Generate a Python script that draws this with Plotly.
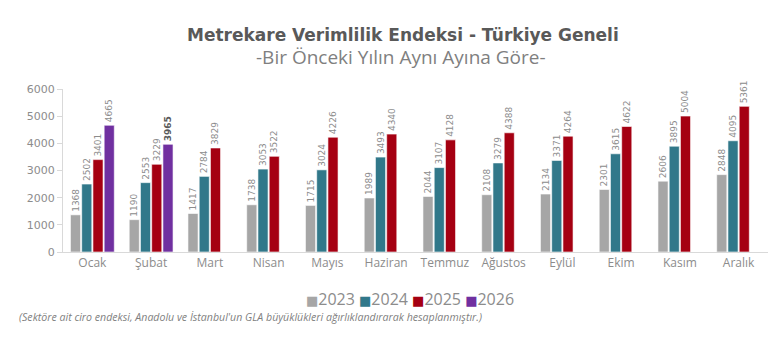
import plotly.graph_objects as go

months = ["Ocak", "Şubat", "Mart", "Nisan", "Mayıs", "Haziran", "Temmuz",
          "Ağustos", "Eylül", "Ekim", "Kasım", "Aralık"]
years = ["2023", "2024", "2025", "2026"]
v2023 = [1368, 1190, 1417, 1738, 1715, 1989, 2044, 2108, 2134, 2301, 2606, 2848]
v2024 = [2502, 2553, 2784, 3053, 3024, 3493, 3107, 3279, 3371, 3615, 3895, 4095]
v2025 = [3401, 3229, 3829, 3522, 4226, 4340, 4128, 4388, 4264, 4622, 5004, 5361]
v2026 = [4665, 3965, None, None, None, None, None, None, None, None, None, None]
series = [v2023, v2024, v2025, v2026]
colors = ["#a6a6a6", "#31788a", "#a50012", "#7030a0"]
highlight = {"2026": 1}  # index of the bold (latest) value

fig = go.Figure()
for name, vals, col in zip(years, series, colors):
    texts = []
    for i, v in enumerate(vals):
        if v is None:
            texts.append("")
        elif highlight.get(name) == i:
            texts.append(f"<b><span style='color:#595959'>{v}</span></b>")
        else:
            texts.append(str(v))
    fig.add_trace(go.Bar(
        x=months, y=vals, name=name,
        marker=dict(color=col, line=dict(color="#ffffff", width=0.6)),
        text=texts, texttemplate="%{text}", textposition="outside", textangle=-90,
        textfont=dict(family="DejaVu Sans", size=9, color="#8c8c8c"),
        constraintext="none", cliponaxis=False, showlegend=False,
        hoverinfo="x+y+name",
    ))

legend_html = " ".join(
    f"<span style='color:{c};font-family:DejaVu Sans;font-size:13px'>■</span>{y}"
    for y, c in zip(years, colors)
)

fig.update_layout(
    width=768, height=340,
    margin=dict(l=63, r=0, t=89, b=88),
    paper_bgcolor="white", plot_bgcolor="white",
    barmode="group", bargap=0.235, bargroupgap=0.1,
    font=dict(family="Open Sans", color="#8c8c8c"),
    xaxis=dict(
        showline=True, linecolor="#d9d9d9", linewidth=1,
        ticks="", tickfont=dict(family="Open Sans", size=12, color="#8c8c8c"),
        showgrid=False, zeroline=False,
    ),
    yaxis=dict(
        range=[0, 6000], dtick=1000,
        showline=True, linecolor="#d9d9d9", linewidth=1,
        ticks="outside", ticklen=5, tickcolor="#d9d9d9",
        tickfont=dict(family="DejaVu Sans", size=11, color="#8c8c8c"),
        showgrid=False, zeroline=False,
    ),
    annotations=[
        dict(text="<b>Metrekare Verimlilik Endeksi - Türkiye Geneli</b>",
             xref="paper", yref="paper", x=0.0, xshift=-63 + 403, y=1, yshift=89 - 35,
             xanchor="center", yanchor="middle", showarrow=False,
             font=dict(family="DejaVu Sans", size=17, color="#595959")),
        dict(text="-Bir Önceki Yılın Aynı Ayına Göre-",
             xref="paper", yref="paper", x=0.0, xshift=-63 + 401, y=1, yshift=89 - 57,
             xanchor="center", yanchor="middle", showarrow=False,
             font=dict(family="Open Sans", size=19, color="#7f7f7f")),
        dict(text=legend_html,
             xref="paper", yref="paper", x=0.0, xshift=-63 + 410, y=0, yshift=252 - 299,
             xanchor="center", yanchor="middle", showarrow=False,
             font=dict(family="Open Sans", size=16, color="#8c8c8c")),
        dict(text="<i>(Sektöre ait ciro endeksi, Anadolu ve İstanbul'un GLA büyüklükleri ağırlıklandırarak hesaplanmıştır.)</i>",
             xref="paper", yref="paper", x=0.0, xshift=-63 + 17, y=0, yshift=252 - 317,
             xanchor="left", yanchor="middle", showarrow=False,
             font=dict(family="Open Sans", size=10.6, color="#7f7f7f")),
    ],
)

fig.write_html("out.html")
